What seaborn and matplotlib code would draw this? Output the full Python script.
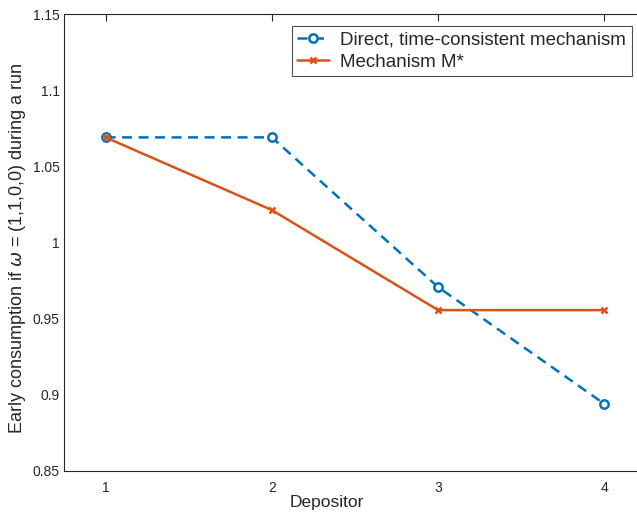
import matplotlib
matplotlib.use("Agg")
import matplotlib.pyplot as plt
import seaborn as sns
import pandas as pd

depositors = [1, 2, 3, 4]
direct_tc = [1.069, 1.069, 0.9707, 0.894]
mechanism_m = [1.069, 1.0213, 0.9556, 0.9556]
series_names = ["Direct, time-consistent mechanism", "Mechanism M*"]
yticks = [0.85, 0.9, 0.95, 1.0, 1.05, 1.1, 1.15]
ytick_labels = ["0.85", "0.9", "0.95", "1", "1.05", "1.1", "1.15"]

sns.set_theme(style="white")
plt.rcParams['font.family'] = ['Liberation Sans', 'DejaVu Sans']
plt.rcParams['mathtext.fontset'] = 'dejavusans'

df = pd.DataFrame({
    "Depositor": depositors * 2,
    "value": direct_tc + mechanism_m,
    "series": [series_names[0]] * 4 + [series_names[1]] * 4,
})

fig = plt.figure(figsize=(6.37, 5.16), dpi=100, facecolor="white")
ax = fig.add_axes([64/637, 1 - 471/516, 582/637, 457/516])

blue = "#0072BD"
orange = "#D95319"

d1 = df[df.series == series_names[0]]
d2 = df[df.series == series_names[1]]
sns.lineplot(data=d1, x="Depositor", y="value", ax=ax, color=blue, linestyle=(0, (4, 2.6)),
             linewidth=1.8, marker="o", markersize=6, markerfacecolor="white",
             markeredgecolor=blue, markeredgewidth=1.8, label=series_names[0])
sns.lineplot(data=d2, x="Depositor", y="value", ax=ax, color=orange, linestyle="-",
             linewidth=1.8, marker="x", markersize=4.5, markeredgecolor=orange,
             markeredgewidth=1.8, label=series_names[1])

ax.set_xlim(0.75, 4.25)
ax.set_ylim(0.85, 1.15)
ax.set_xticks(depositors)
ax.set_xticklabels([str(d) for d in depositors])
ax.set_yticks(yticks)
ax.set_yticklabels(ytick_labels)

for s in ax.spines.values():
    s.set_color("#262626")
    s.set_linewidth(0.8)
ax.spines["right"].set_visible(False)
ax.tick_params(axis="both", direction="in", length=5, width=0.8, color="#262626",
               labelsize=10, labelcolor="#262626", top=True, right=False)
ax.tick_params(axis="x", pad=7)
ax.tick_params(axis="y", pad=3)

ax.set_xlabel("Depositor", fontsize=12.5, color="#262626")
ax.set_ylabel("Early consumption if $\\omega$ = (1,1,0,0) during a run",
              fontsize=13, color="#262626")
ax.xaxis.set_label_coords((327 - 64) / 582, -(503 - 471) / 457)
ax.xaxis.label.set_va("center")
ax.yaxis.set_label_coords((18 - 64) / 582, (471 - 248) / 457)
ax.yaxis.label.set_va("center")

leg = ax.legend(loc="upper right", bbox_to_anchor=(632/637, 1 - 26/516),
                bbox_transform=fig.transFigure, frameon=True, fancybox=False,
                fontsize=13.5, handlelength=1.7, borderpad=0.3, labelspacing=0.25,
                handletextpad=0.6, borderaxespad=0)
leg.get_frame().set_edgecolor("#262626")
leg.get_frame().set_linewidth(0.8)

fig.savefig("out.png", dpi=100, facecolor="white")
